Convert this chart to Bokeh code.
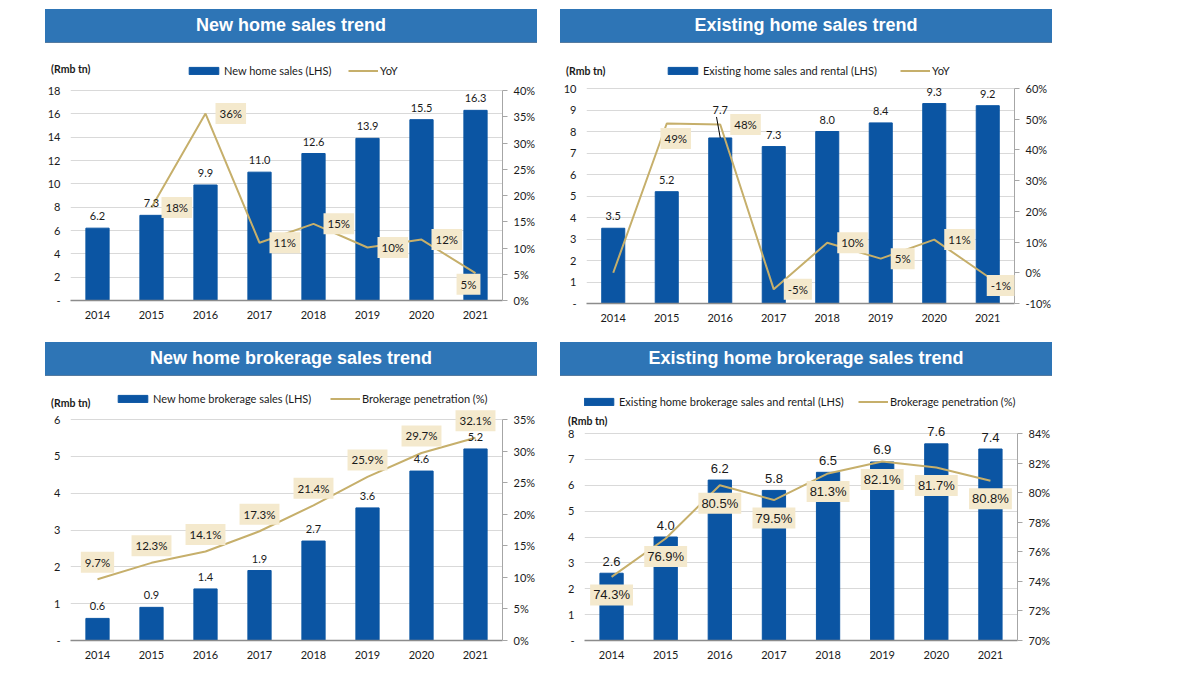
from bokeh.plotting import figure
from bokeh.models import (FactorRange, Range1d, LinearAxis, FixedTicker, PrintfTickFormatter,
                          Legend, LegendItem, Label, Div)
from bokeh.layouts import row, column
from bokeh.embed import file_html
from bokeh.resources import INLINE

# ---------------- data ----------------
years = ["2014", "2015", "2016", "2017", "2018", "2019", "2020", "2021"]

new_sales = [6.2, 7.3, 9.9, 11.0, 12.6, 13.9, 15.5, 16.3]
new_yoy = [None, 17.7, 35.6, 11.0, 14.6, 10.1, 11.6, 5.2]
new_yoy_labels = ["", "18%", "36%", "11%", "15%", "10%", "12%", "5%"]

exist_sales = [3.5, 5.2, 7.7, 7.3, 8.0, 8.4, 9.3, 9.2]
exist_yoy = [0.0, 48.6, 48.3, -5.4, 9.8, 4.6, 10.8, -1.2]
exist_yoy_labels = ["", "49%", "48%", "-5%", "10%", "5%", "11%", "-1%"]

newbrk_sales = [0.6, 0.9, 1.4, 1.9, 2.7, 3.6, 4.6, 5.2]
newbrk_pen = [9.7, 12.3, 14.1, 17.3, 21.4, 25.9, 29.7, 32.1]
newbrk_pen_labels = ["9.7%", "12.3%", "14.1%", "17.3%", "21.4%", "25.9%", "29.7%", "32.1%"]

exbrk_sales = [2.6, 4.0, 6.2, 5.8, 6.5, 6.9, 7.6, 7.4]
exbrk_pen = [74.3, 76.9, 80.5, 79.5, 81.3, 82.1, 81.7, 80.8]
exbrk_pen_labels = ["74.3%", "76.9%", "80.5%", "79.5%", "81.3%", "82.1%", "81.7%", "80.8%"]

titles = ["New home sales trend", "Existing home sales trend",
          "New home brokerage sales trend", "Existing home brokerage sales trend"]
bar_names = ["New home sales (LHS)", "Existing home sales and rental (LHS)",
             "New home brokerage sales (LHS)", "Existing home brokerage sales and rental (LHS)"]
line_names = ["YoY", "YoY", "Brokerage penetration (%)", "Brokerage penetration (%)"]
unit_label = "(Rmb tn)"

# ---------------- style ----------------
BAR = "#0B55A3"
GOLD = "#C6AF6B"
BOXFILL = "#F4E9CD"
BAND = "#2E75B6"
GRID = "#D9D9D9"
TXT = "#1A1A1A"
CAL = "Lato"
ARIAL = "Liberation Sans"


def band(title, left, top):
    html = (f'<div style="width:492px;height:33px;line-height:33px;background:{BAND};'
            f'color:#ffffff;font-family:\'Liberation Sans\',Arial,sans-serif;font-weight:bold;'
            f'font-size:18px;text-align:center;box-shadow:0 1px 0 #1d4f80;">{title}</div>')
    return Div(text=html, width=492, height=33, margin=(top, 0, 0, left))


def cat_x(yr):
    # synthetic coordinate of a factor on the categorical scale (centre of its slot)
    return years.index(yr) + 0.5


def make_panel(cfg, sales, line_vals, line_labels, bar_name, line_name):
    fh = cfg["h"] - cfg["bt"] - cfg["bb"]          # plotted height of the value scale
    ext = cfg["ext"]                                # headroom (px) above the top tick
    ppu = fh / cfg["ymax"]
    ytop = cfg["ymax"] * (fh + ext) / fh
    rtop = cfg["rmin"] + (cfg["rmax"] - cfg["rmin"]) * (fh + ext) / fh

    p = figure(x_range=FactorRange(*years), y_range=Range1d(0, ytop),
               width=cfg["w"], height=cfg["h"], output_backend="svg", toolbar_location=None,
               min_border_left=cfg["bl"], min_border_right=cfg["br"],
               min_border_top=cfg["bt"] - ext, min_border_bottom=cfg["bb"])
    p.x_range.range_padding = 0
    p.extra_y_ranges = {"r": Range1d(cfg["rmin"], rtop)}
    p.outline_line_color = None
    p.background_fill_color = "white"
    p.border_fill_color = "white"
    p.xgrid.visible = False

    lticks = [i * cfg["ystep"] for i in range(int(round(cfg["ymax"] / cfg["ystep"])) + 1)]
    rticks = list(range(cfg["rmin"], cfg["rmax"] + 1, cfg["rstep"]))

    p.ygrid.ticker = FixedTicker(ticks=lticks)
    p.ygrid.grid_line_color = GRID
    p.ygrid.grid_line_width = 1

    ya = p.yaxis[0]
    ya.ticker = FixedTicker(ticks=lticks)
    ya.major_label_overrides = {0: "-"}
    ya.axis_line_color = None
    ya.major_tick_line_color = None
    ya.major_tick_out = 0
    ya.major_tick_in = 0
    ya.minor_tick_line_color = None
    ya.minor_tick_out = 0
    ya.major_label_standoff = 10
    ya.major_label_text_font = CAL
    ya.major_label_text_font_size = "11px"
    ya.major_label_text_color = TXT

    # unit caption "(Rmb tn)": a single-tick axis on the left, shifted over the first one
    u = round(cfg["unit_y"] / ppu, 4)
    ua = LinearAxis(ticker=FixedTicker(ticks=[u]), major_label_overrides={u: unit_label})
    ua.axis_line_color = None
    ua.major_tick_line_color = None
    ua.major_tick_out = 0
    ua.major_tick_in = 0
    ua.minor_tick_line_color = None
    ua.minor_tick_out = 0
    ua.major_label_standoff = cfg["unit_s"]
    ua.major_label_text_font = CAL
    ua.major_label_text_font_style = "bold"
    ua.major_label_text_font_size = "10.5px"
    ua.major_label_text_color = TXT
    p.add_layout(ua, "left")

    xa = p.xaxis[0]
    xa.axis_line_color = "#8C8C8C"
    xa.axis_line_width = 1.5
    xa.major_tick_line_color = None
    xa.major_tick_out = 0
    xa.major_tick_in = 0
    xa.minor_tick_line_color = None
    xa.major_label_standoff = 10
    xa.major_label_text_font = CAL
    xa.major_label_text_font_size = "11px"
    xa.major_label_text_color = TXT

    ra = LinearAxis(y_range_name="r", ticker=FixedTicker(ticks=rticks),
                    formatter=PrintfTickFormatter(format="%d%%"),
                    bounds=(cfg["rmin"], cfg["rmax"]))
    ra.axis_line_color = "#A6A6A6"
    ra.major_tick_line_color = "#A6A6A6"
    ra.major_tick_out = 5
    ra.major_tick_in = 0
    ra.minor_tick_line_color = None
    ra.minor_tick_out = 0
    ra.major_label_standoff = 6
    ra.major_label_text_font = CAL
    ra.major_label_text_font_size = "11px"
    ra.major_label_text_color = TXT
    p.add_layout(ra, "right")

    bars = p.vbar(x=years, top=sales, width=0.43, fill_color=BAR, line_color=BAR)
    lx = [y for y, v in zip(years, line_vals) if v is not None]
    ly = [v for v in line_vals if v is not None]
    ln = p.line(x=lx, y=ly, y_range_name="r", line_color=GOLD, line_width=2)

    # bar value labels
    for i, (yr, v) in enumerate(zip(years, sales)):
        off = cfg["bar_lab_off"].get(i, 12)
        p.add_layout(Label(x=cat_x(yr), y=v, text=f"{v:.1f}", text_align="center", text_baseline="middle",
                           y_offset=off, text_font=cfg["lab_font"],
                           text_font_size=cfg["lab_size"], text_color=TXT))

    # line value labels
    for i, (yr, v, t) in enumerate(zip(years, line_vals, line_labels)):
        if v is None or t == "":
            continue
        place = cfg["place"][i]
        if place == "right":
            dx, dy = cfg["right_adj"].get(i, (10, 0))
            kw = dict(text_align="left", x_offset=dx, y_offset=dy)
        elif place == "below":
            kw = dict(text_align="center", x_offset=cfg["below_dx"].get(i, 0), y_offset=-cfg["below_dy"])
        else:  # above
            kw = dict(text_align="center", x_offset=0, y_offset=cfg["above_dy"])
        p.add_layout(Label(x=cat_x(yr), y=v, y_range_name="r", text=t, text_baseline="middle",
                           text_font=cfg["lab_font"], text_font_size=cfg["box_size"], text_color=TXT,
                           background_fill_color=BOXFILL, padding=cfg["pad"], **kw))

    # legends (one per item so that positions can be set independently)
    common = dict(orientation="horizontal", glyph_height=9, label_height=14,
                  label_standoff=2, padding=0, margin=0, spacing=0,
                  background_fill_alpha=0, border_line_alpha=0,
                  label_text_font=CAL, label_text_font_size="11px", label_text_color=TXT)
    lg1 = Legend(items=[LegendItem(label=bar_name, renderers=[bars])], location=cfg["leg1"],
                 glyph_width=37, **common)
    lg2 = Legend(items=[LegendItem(label=line_name, renderers=[ln])], location=cfg["leg2"],
                 glyph_width=30, **common)
    p.add_layout(lg1, "center")
    p.add_layout(lg2, "center")
    return p


cfgA = dict(w=540, h=300, bl=62, br=46, bt=48, bb=42, ext=28,
            ymax=18, ystep=2, rmin=0, rmax=40, rstep=5,
            lab_font=CAL, lab_size="11px", box_size="11.5px", pad=4,
            bar_lab_off={}, place=["", "right", "right", "right", "right", "right", "right", "below"],
            right_adj={}, below_dx={7: -7}, below_dy=11, above_dy=17,
            leg1=(115, 223), leg2=(278, 223), unit_y=232, unit_s=-46)
cfgB = dict(w=506, h=300, bl=38, br=40, bt=46, bb=39, ext=28,
            ymax=10, ystep=1, rmin=-10, rmax=60, rstep=10,
            lab_font=CAL, lab_size="11px", box_size="11.5px", pad=4,
            bar_lab_off={2: 28}, place=["", "below", "right", "right", "right", "right", "right", "right"],
            right_adj={7: (-1, -9)}, below_dx={1: 9}, below_dy=15, above_dy=17,
            leg1=(78, 226), leg2=(314, 226), unit_y=233, unit_s=-45)
cfgC = dict(w=540, h=289, bl=62, br=46, bt=44, bb=24, ext=28,
            ymax=6, ystep=1, rmin=0, rmax=35, rstep=5,
            lab_font=CAL, lab_size="11px", box_size="11.5px", pad=4,
            bar_lab_off={}, place=["above"] * 8, right_adj={}, below_dx={}, below_dy=17, above_dy=17,
            leg1=(44, 235), leg2=(260, 235), unit_y=238, unit_s=-39)
cfgD = dict(w=509, h=289, bl=36, br=40, bt=58, bb=24, ext=40,
            ymax=8, ystep=1, rmin=70, rmax=84, rstep=2,
            lab_font=ARIAL, lab_size="13px", box_size="13px", pad=3,
            bar_lab_off={}, place=["below"] * 8, right_adj={}, below_dx={}, below_dy=18, above_dy=17,
            leg1=(-4, 232), leg2=(274, 232), unit_y=220, unit_s=-42)

pA = make_panel(cfgA, new_sales, new_yoy, new_yoy_labels, bar_names[0], line_names[0])
pB = make_panel(cfgB, exist_sales, exist_yoy, exist_yoy_labels, bar_names[1], line_names[1])
pC = make_panel(cfgC, newbrk_sales, newbrk_pen, newbrk_pen_labels, bar_names[2], line_names[2])
pD = make_panel(cfgD, exbrk_sales, exbrk_pen, exbrk_pen_labels, bar_names[3], line_names[3])

# leader line for the raised 2016 label in the existing-home chart
px_per_unit_B = (cfgB["h"] - cfgB["bt"] - cfgB["bb"]) / cfgB["ymax"]
pB.segment(x0=[cat_x("2016")], y0=[exist_sales[2]], x1=[cat_x("2016") - 0.07],
           y1=[exist_sales[2] + 21 / px_per_unit_B], line_color="#000000", line_width=1)

layout = column(
    row(column(band(titles[0], 37, 1), pA), column(band(titles[1], 12, 1), pB)),
    row(column(band(titles[2], 37, 0), pC), column(band(titles[3], 12, 0), pD)),
    margin=(8, 0, 0, 8),
)

open("out.html", "w").write(file_html(layout, INLINE))
